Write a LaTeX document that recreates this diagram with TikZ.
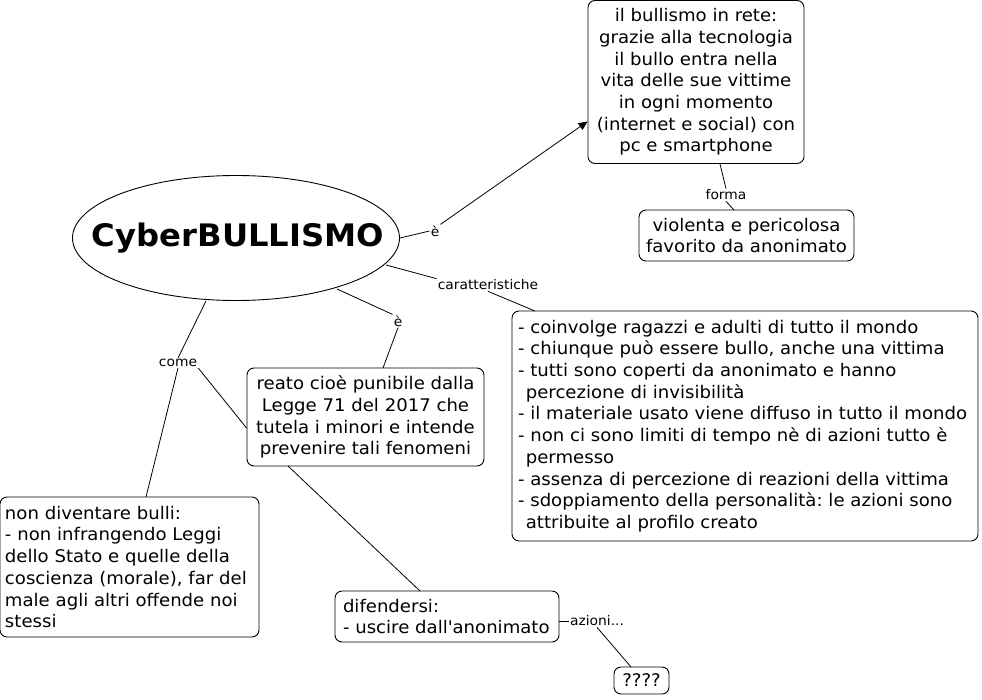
\documentclass[tikz,border=0pt]{standalone}
\usepackage{fontspec}
\setmainfont{DejaVu Sans}[FakeStretch=1.04]
\usetikzlibrary{shapes.geometric,arrows.meta}
\newcommand{\apos}{{\XeTeXglyph\XeTeXcharglyph"27\relax}}
\frenchspacing
\begin{document}
\begin{tikzpicture}[x=1pt,y=-1pt,
  concept/.style={draw,rounded corners=7pt,line width=0.9pt,inner sep=0pt,font=\fontsize{17.4}{21.7}\selectfont\frenchspacing},
  lbl/.style={inner sep=1pt,font=\fontsize{13.3}{15}\selectfont},
  link/.style={line width=0.8pt}]
\useasboundingbox (0,0) rectangle (982,699);
\node[draw,ellipse,line width=0.9pt,minimum width=327pt,minimum height=125pt,inner sep=0pt] (cb) at (236,238) {};
\node[font=\fontsize{31}{36}\selectfont\bfseries] (cbt) at ([xshift=2pt]cb.center) {CyberBULLISMO};
\node[concept,minimum width=216pt,minimum height=163pt,align=center] (rete) at (696,82) {il bullismo in rete:\\grazie alla tecnologia\\il bullo entra nella\\vita delle sue vittime\\in ogni momento\\(internet e social) con\\pc e smartphone};
\node[concept,minimum width=215pt,minimum height=51pt,align=center] (viol) at (746.5,235.5) {violenta e pericolosa\\favorito da anonimato};
\node[concept,minimum width=466pt,minimum height=230pt,text width=454pt,align=left] (car) at (745,426) {- coinvolge ragazzi e adulti di tutto il mondo\\- chiunque può essere bullo, anche una vittima\\- tutti sono coperti da anonimato e hanno\\\hspace*{0.45em}percezione di invisibilità\\- il materiale usato viene diffuso in tutto il mondo\\- non ci sono limiti di tempo nè di azioni tutto è\\\hspace*{0.45em}permesso\\- assenza di percezione di reazioni della vittima\\- sdoppiamento della personalità: le azioni sono\\\hspace*{0.45em}attribuite al profilo creato};
\node[concept,minimum width=237pt,minimum height=98pt,align=center] (reato) at (365.5,417) {reato cioè punibile dalla\\Legge 71 del 2017 che\\tutela i minori e intende\\prevenire tali fenomeni};
\node[concept,minimum width=259pt,minimum height=140pt,text width=249pt,align=left] (non) at (129.5,567) {non diventare bulli:\\- non infrangendo Leggi\\dello Stato e quelle della\\coscienza (morale), far del\\male agli altri offende noi\\stessi};
\node[concept,minimum width=224pt,minimum height=51pt,text width=208pt,align=left] (dif) at (447,616.5) {difendersi:\\- uscire dall\apos anonimato};
\node[concept,minimum width=55pt,minimum height=27pt,align=center] (q) at (641.5,680.5) {????};
\node[lbl] (l1) at (435,231) {è};
\node[lbl] (l2) at (726,195) {forma};
\node[lbl] (l3) at (488,285) {caratteristiche};
\node[lbl] (l4) at (398,321) {è};
\node[lbl] (l5) at (178,363) {come};
\node[lbl] (l6) at (597,621) {azioni...};
\draw[link] (cb.east) -- (l1.west);
\draw[link,-{Triangle[length=9pt,width=8pt]}] (l1.north east) -- (rete.200);
\draw[link] (720,164) -- (l2.north);
\draw[link] (l2.south) -- (734,210);
\draw[link] ([shift={(150,27)}]cb.center) -- (l3.north west);
\draw[link] (l3.south) -- (535,311);
\draw[link] ([shift={(101,51)}]cb.center) -- (l4.north west);
\draw[link] (l4.south) -- (383,368);
\draw[link] ([shift={(-30,63)}]cb.center) -- (l5.north);
\draw[link] (l5.south east) -- (reato.west |- 0,428);
\draw[link] (l5.south) -- (146,497);
\draw[link] (288,466) -- (420,591);
\draw[link] (dif.east |- 0,621) -- (l6.west);
\draw[link] (l6.south) -- (631,667);
\end{tikzpicture}
\end{document}
